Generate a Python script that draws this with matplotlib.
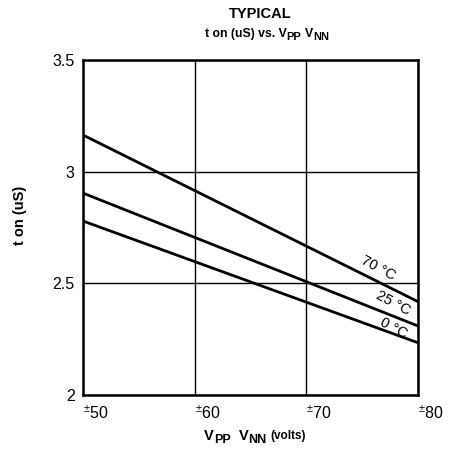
import matplotlib
matplotlib.use("Agg")
import matplotlib.pyplot as plt

plt.rcParams['font.family'] = ['Liberation Sans', 'DejaVu Sans']
plt.rcParams['mathtext.fontset'] = 'custom'
plt.rcParams['mathtext.rm'] = 'Liberation Sans'
plt.rcParams['mathtext.bf'] = 'Liberation Sans:bold'

# Data
voltage = [50, 80]
t_on_70C = [3.164, 2.418]
t_on_25C = [2.904, 2.309]
t_on_0C = [2.779, 2.234]
series_labels = ['70 °C', '25 °C', '0 °C']
x_ticks = [50, 60, 70, 80]
x_tick_labels = [r'$^{\pm}$50', r'$^{\pm}$60', r'$^{\pm}$70', r'$^{\pm}$80']
y_ticks = [2, 2.5, 3, 3.5]
y_tick_labels = ['2', '2.5', '3', '3.5']

W, H = 451, 470
fig = plt.figure(figsize=(W / 100, H / 100), dpi=100)
ax = fig.add_axes([83/W, 75/H, 335/W, 335/H])

for ys in (t_on_70C, t_on_25C, t_on_0C):
    ax.plot(voltage, ys, color='black', lw=2.0, solid_capstyle='butt')

ax.set_xlim(50, 80)
ax.set_ylim(2, 3.5)
ax.set_xticks(x_ticks)
ax.set_xticklabels(x_tick_labels, ha='left', fontsize=11.5)
ax.set_yticks(y_ticks)
ax.set_yticklabels(y_tick_labels, fontsize=11.5)
ax.tick_params(length=0, pad=7)
ax.tick_params(axis='y', pad=6)
ax.grid(True, color='black', lw=1.0)
for s in ax.spines.values():
    s.set_linewidth(1.8)

# Curve labels
ax.text(76.4, 2.57, series_labels[0], rotation=-28, fontsize=10.5, ha='center', va='center')
ax.text(77.8, 2.41, series_labels[1], rotation=-28, fontsize=10.5, ha='center', va='center')
ax.text(77.8, 2.30, series_labels[2], rotation=-28, fontsize=10.5, ha='center', va='center')

renderer = fig.canvas.get_renderer()


def draw_pieces(cx, cy, pieces):
    """pieces: list of (text, size, dy_px, gap_px); drawn centred at (cx, cy) in px from top-left."""
    texts = []
    widths = []
    for txt, size, dy, gap in pieces:
        t = fig.text(0, 0, txt, fontsize=size, fontweight='bold', ha='left', va='baseline')
        w = t.get_window_extent(renderer).width
        texts.append(t)
        widths.append(w)
    total = sum(widths) + sum(p[3] for p in pieces)
    x = cx - total / 2
    base = H - cy
    for t, w, (txt, size, dy, gap) in zip(texts, widths, pieces):
        x += gap
        t.set_position((x / W, (base - dy) / H))
        x += w


fig.text(260/W, 1 - 14/H, 'TYPICAL', ha='center', va='center', fontsize=10.5, fontweight='bold')
draw_pieces(267, 37, [('t on (uS) vs. V', 8.8, 0, 0), ('PP', 8, 3, 0),
                      ('V', 8.8, 0, 4), ('NN', 8, 3, 0)])
fig.text(20/W, 1 - 215/H, 't on (uS)', rotation=90, ha='center', va='center',
         fontsize=10.5, fontweight='bold')
draw_pieces(255, 440, [('V', 10.5, 0, 0), ('PP', 9, 3, 0),
                       ('V', 10.5, 0, 8), ('NN', 9, 3, 0), ('(volts)', 8.5, -1, 4)])

fig.savefig('out.png', dpi=100)
